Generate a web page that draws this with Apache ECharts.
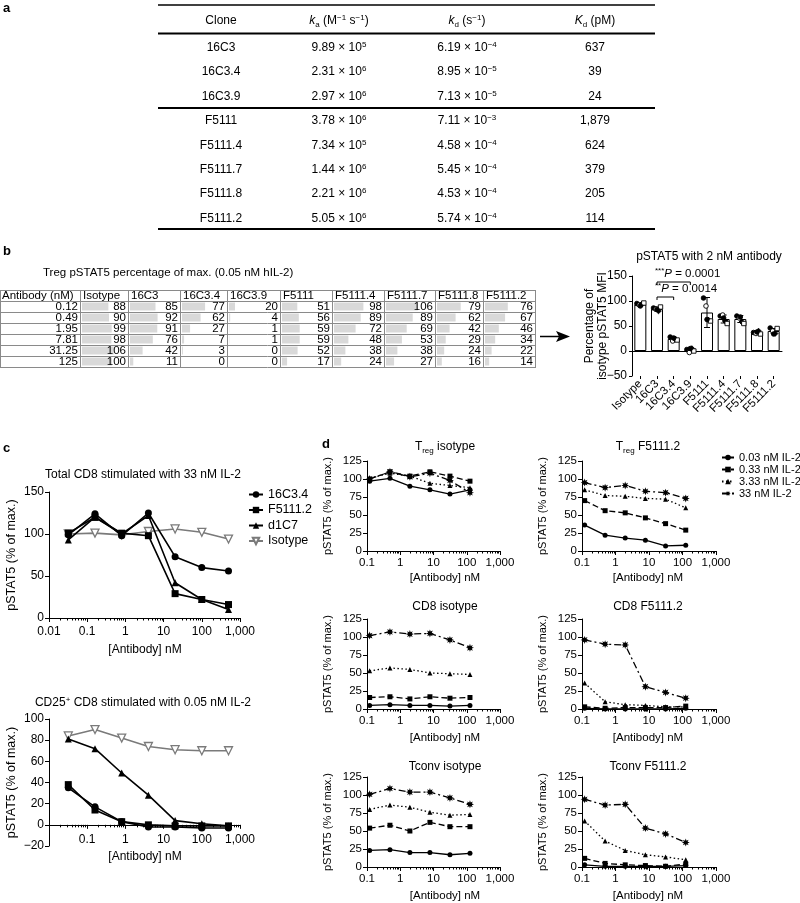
<!DOCTYPE html>
<html><head><meta charset="utf-8">
<script src="https://cdn.jsdelivr.net/npm/echarts@6/dist/echarts.min.js"></script>
<style>html,body{margin:0;padding:0;background:#fff}#main{width:800px;height:903px}</style>
</head><body><div id="main"></div>
<script>
const FONT = '"Liberation Sans", Arial, Helvetica, sans-serif';

// ================= DATA =================
// Panel a table
const aClones = ['16C3','16C3.4','16C3.9','F5111','F5111.4','F5111.7','F5111.8','F5111.2'];
const aKaMant = ['9.89','2.31','2.97','3.78','7.34','1.44','2.21','5.05'];
const aKaExp  = ['5','6','6','6','5','6','6','6'];
const aKdMant = ['6.19','8.95','7.13','7.11','4.58','5.45','4.53','5.74'];
const aKdExp  = ['\u22124','\u22125','\u22125','\u22123','\u22124','\u22124','\u22124','\u22124'];
const aKD     = ['637','39','24','1,879','624','379','205','114'];

// Panel b table
const bConc = ['0.12','0.49','1.95','7.81','31.25','125'];
const bCols = ['Isotype','16C3','16C3.4','16C3.9','F5111','F5111.4','F5111.7','F5111.8','F5111.2'];
const bIsotype = [88,90,99,98,106,100];
const b16C3    = [85,92,91,76,42,11];
const b16C3_4  = [77,62,27,7,3,0];
const b16C3_9  = [20,4,1,1,0,0];
const bF5111   = [51,56,59,59,52,17];
const bF5111_4 = [98,89,72,48,38,24];
const bF5111_7 = [106,89,69,53,38,27];
const bF5111_8 = [79,62,42,29,24,16];
const bF5111_2 = [76,67,46,34,22,14];
const bTable = [bIsotype,b16C3,b16C3_4,b16C3_9,bF5111,bF5111_4,bF5111_7,bF5111_8,bF5111_2];

// Panel b bar chart (pSTAT5 with 2 nM antibody)
const barMeans = [93,84,24,2,77,64,64,37,40];
const barSD    = [3,4,4,4,30,8,7,3,5];
const barReps  = [[95,92,94,96,90],[86,84,80,88,83],[28,20,24,22,26],[3,-3,5,0,5],[106,90,62,60,63],[70,72,60,55,66],[70,66,58,55,68],[37,35,40,34,38],[46,40,35,45,34]];
const bracketSpans = [[1,3],[1,2]];
const bracketY = [138,108];
const bracketStars = ['***','**'];
const bracketP = ['0.0001','0.0014'];

// Panel c
const cConc = [0.032,0.16,0.8,4,20,100,500];
const cNames = ['16C3.4','F5111.2','d1C7','Isotype'];
const cTop = [
  [99,124,98,125,73,60,56],
  [101,120,101,98,29,22,16],
  [93,120,100,122,42,22,10],
  [100,101,99,103,106,102,94]
];
const cBot = [
  [35,17,3,-2,-2,-3,-3],
  [38,14,3,0,-1,-1,-1],
  [81,72,49,28,4,1,-1],
  [84,90,82,74,71,70,70]
];
const xTickLabels = ['0.01','0.1','1','10','100','1,000'];   // 10^-2 .. 10^3

// Panel d
const dConc = [0.12,0.49,1.95,7.81,31.25,125];
const dIL2 = ['0.03 nM IL-2','0.33 nM IL-2','3.33 nM IL-2','33 nM IL-2'];
const dTregIso   = [[97,101,90,85,79,85],[100,110,104,110,104,97],[101,108,104,94,91,88],[100,110,103,108,98,81]];
const dTregF     = [[36,22,18,15,7,8],[70,56,53,46,38,29],[85,77,76,73,72,60],[95,88,91,83,81,73]];
const dCD8Iso    = [[5,6,5,5,4,5],[16,17,14,17,15,16],[53,57,55,50,49,48],[102,107,104,105,96,85]];
const dCD8F      = [[1,0,0,0,0,1],[3,1,2,2,2,4],[36,10,6,5,3,3],[96,90,89,31,23,15]];
const dTconvIso  = [[23,24,20,20,17,19],[54,58,50,62,56,56],[80,86,83,76,72,73],[101,109,104,104,96,87]];
const dTconvF    = [[3,1,1,1,1,2],[12,5,3,2,1,4],[64,36,23,17,14,10],[94,86,87,54,46,34]];
const dTitles = ['T_reg isotype','T_reg F5111.2','CD8 isotype','CD8 F5111.2','Tconv isotype','Tconv F5111.2'];
const dPanels = [dTregIso,dTregF,dCD8Iso,dCD8F,dTconvIso,dTconvF];

// ================= BUILD =================
const grids=[], xAxes=[], yAxes=[], series=[], graphics=[], legends=[];
const minusFmt = v => String(v).replace('-', '\u2212');
function addGrid(g){ grids.push(Object.assign({containLabel:false}, g)); return grids.length-1; }
function rich(sz){
  return {
    n:{fontSize:sz,fontFamily:FONT,fill:'#000',lineHeight:sz+3},
    i:{fontSize:sz,fontFamily:FONT,fontStyle:'italic',fill:'#000',lineHeight:sz+3},
    sup:{fontSize:Math.round(sz*0.68),fontFamily:FONT,fill:'#000',verticalAlign:'top'},
    sub:{fontSize:Math.round(sz*0.68),fontFamily:FONT,fill:'#000',verticalAlign:'bottom'}
  };
}
function txt(x,y,text,o){
  o=o||{};
  const st = {text, fill:'#000', fontSize:o.size||12, fontFamily:FONT, fontWeight:o.bold?'bold':'normal',
    fontStyle:o.italic?'italic':'normal', align:o.align||'center', verticalAlign:o.va||'middle'};
  if(o.rich) st.rich = rich(o.size||12);
  graphics.push({type:'text', x, y, z:100, silent:true, rotation:o.rotation||0, style:st});
}
function line(x1,y1,x2,y2,w,c){ graphics.push({type:'line', z:100, silent:true, shape:{x1,y1,x2,y2}, style:{stroke:c||'#000', lineWidth:w||1}}); }

// panel labels
txt(3,8,'a',{bold:true,size:13,align:'left'});
txt(3,251,'b',{bold:true,size:13,align:'left'});
txt(3,448,'c',{bold:true,size:13,align:'left'});
txt(322,444,'d',{bold:true,size:13,align:'left'});

// ---- Panel a table
const aX=[221,339,467,595], aHeadY=21, aRowY=[48,72,97,121,146,170,194,219];
line(158,5,655,5,1.5); line(158,33.5,655,33.5,2); line(158,108,655,108,2); line(158,229,655,229,2);
txt(aX[0],aHeadY,'Clone',{size:12});
txt(aX[1],aHeadY,'{i|k}{sub|a}{n| (M}{sup|\u22121}{n| s}{sup|\u22121}{n|)}',{size:12,rich:true});
txt(aX[2],aHeadY,'{i|k}{sub|d}{n| (s}{sup|\u22121}{n|)}',{size:12,rich:true});
txt(aX[3],aHeadY,'{i|K}{sub|d}{n| (pM)}',{size:12,rich:true});
aClones.forEach((c,i)=>{
  txt(aX[0],aRowY[i],c,{size:12});
  txt(aX[1],aRowY[i],'{n|'+aKaMant[i]+' \u00d7 10}{sup|'+aKaExp[i]+'}',{size:12,rich:true});
  txt(aX[2],aRowY[i],'{n|'+aKdMant[i]+' \u00d7 10}{sup|'+aKdExp[i]+'}',{size:12,rich:true});
  txt(aX[3],aRowY[i],aKD[i],{size:12});
});

// ---- Panel b table
txt(43,273,'Treg pSTAT5 percentage of max. (0.05 nM hIL-2)',{size:11.5,align:'left'});
const bEdges=[0,80,128,180,227,280,332,384,435,483,535];
const bTop=290, bRowH=11;
for(let k=0;k<=7;k++) line(0,bTop+k*bRowH+0.5,535,bTop+k*bRowH+0.5,1,'#8a8a8a');
bEdges.forEach(x=>line(x+0.5,bTop,x+0.5,bTop+7*bRowH+1,1,'#8a8a8a'));
txt(2,bTop+6,'Antibody (nM)',{size:11.5,align:'left'});
bCols.forEach((c,i)=>txt(bEdges[i+1]+3,bTop+6,c,{size:11.5,align:'left'}));
bConc.forEach((c,r)=>txt(bEdges[1]-2,bTop+bRowH*(r+1)+6,c,{size:11.5,align:'right'}));
const PX_PER_UNIT = 0.3;
bTable.forEach((vals,i)=>{
  const l=bEdges[i+1], w=bEdges[i+2]-l;
  const gi = addGrid({left:l+2, top:bTop+bRowH, width:w-3, height:6*bRowH});
  const xi=xAxes.length, yi=yAxes.length;
  xAxes.push({gridIndex:gi, type:'value', min:0, max:(w-3)/PX_PER_UNIT, show:false});
  yAxes.push({gridIndex:gi, type:'category', data:bConc, inverse:true, show:false});
  series.push({type:'bar', xAxisIndex:xi, yAxisIndex:yi, data:vals, barWidth:8, silent:true,
    itemStyle:{color:'#d9d9d9'}, z:1});
  vals.forEach((v,r)=>txt(l+w-2,bTop+bRowH*(r+1)+6,String(v),{size:11.5,align:'right'}));
});

// arrow
line(540,336.5,560,336.5,1.5);
graphics.push({type:'polygon', z:100, silent:true, shape:{points:[[556,331],[570,336.5],[556,342],[559,336.5]]}, style:{fill:'#000'}});

// ---- Panel b bar chart
txt(709,257,'pSTAT5 with 2 nM antibody',{size:12});
const gB = addGrid({left:632, top:276, width:150, height:100});
const bYi = yAxes.length;
yAxes.push({gridIndex:gB, type:'value', min:-50, max:150, interval:50,
  axisLine:{show:true,onZero:false,lineStyle:{color:'#000'}}, axisTick:{show:true,length:3,lineStyle:{color:'#000'}},
  splitLine:{show:false}, axisLabel:{color:'#000',fontSize:12,fontFamily:FONT,margin:5,formatter:minusFmt},
  name:'Percentage of\nisotype pSTAT5 MFI', nameLocation:'middle', nameGap:23, nameMoveOverlap:false,
  nameTextStyle:{color:'#000',fontSize:12,fontFamily:FONT,lineHeight:13}});
const bXi = xAxes.length;
xAxes.push({gridIndex:gB, type:'category', data:bCols, position:'bottom',
  axisLine:{show:false,onZero:false}, axisTick:{show:true,alignWithLabel:true,length:3,lineStyle:{color:'#000'}},
  axisLabel:{rotate:45,interval:0,color:'#000',fontSize:11.5,fontFamily:FONT,margin:6}});
xAxes.push({gridIndex:gB, type:'category', data:bCols, position:'bottom',
  axisLine:{show:true,onZero:true,onZeroAxisIndex:bYi,lineStyle:{color:'#000',width:1}},
  axisTick:{show:false}, axisLabel:{show:false}});
series.push({type:'bar', xAxisIndex:bXi, yAxisIndex:bYi, data:barMeans, barWidth:12, silent:true,
  itemStyle:{color:'#fff',borderColor:'#000',borderWidth:1}, z:2});
series.push({type:'custom', xAxisIndex:bXi, yAxisIndex:bYi, silent:true, z:4,
  data:barMeans.map((m,i)=>[i,m,barSD[i]]),
  renderItem:(p,api)=>{
    const x=api.value(0), m=api.value(1), s=api.value(2);
    const t=api.coord([x,m+s]), b=api.coord([x,m-s]); const cw=3;
    const ls={stroke:'#000',lineWidth:1};
    return {type:'group',children:[
      {type:'line',shape:{x1:t[0],y1:t[1],x2:b[0],y2:b[1]},style:ls},
      {type:'line',shape:{x1:t[0]-cw,y1:t[1],x2:t[0]+cw,y2:t[1]},style:ls},
      {type:'line',shape:{x1:b[0]-cw,y1:b[1],x2:b[0]+cw,y2:b[1]},style:ls}]};
  }});
const jitter=[-3.5,-1,1.5,3.5,0];
const repData=[]; barReps.forEach((arr,i)=>arr.forEach((v,j)=>repData.push([i,v,j])));
series.push({type:'custom', xAxisIndex:bXi, yAxisIndex:bYi, silent:true, z:5, data:repData,
  renderItem:(p,api)=>{
    const c=api.coord([api.value(0),api.value(1)]); const j=api.value(2);
    const x=c[0]+jitter[j], y=c[1];
    const open = (j%2===1);
    const st={fill:open?'#fff':'#000',stroke:'#000',lineWidth:0.9};
    if(j===2) return {type:'polygon',shape:{points:[[x,y-2.8],[x+2.8,y],[x,y+2.8],[x-2.8,y]]},style:st};
    if(j===3) return {type:'rect',shape:{x:x-2.2,y:y-2.2,width:4.4,height:4.4},style:st};
    return {type:'circle',shape:{cx:x,cy:y,r:2.3},style:st};
  }});
series.push({type:'custom', xAxisIndex:bXi, yAxisIndex:bYi, silent:true, clip:false, z:5,
  data:bracketSpans.map((s,i)=>[s[0],s[1],bracketY[i],i]),
  renderItem:(p,api)=>{
    const i=api.value(3);
    const a=api.coord([api.value(0),api.value(2)]), b=api.coord([api.value(1),api.value(2)]);
    return {type:'group',children:[
      {type:'polyline',shape:{points:[[a[0],a[1]+3],[a[0],a[1]],[b[0],b[1]],[b[0],b[1]+3]]},style:{stroke:'#000',fill:null,lineWidth:1}},
      {type:'text',x:a[0]-2,y:a[1]-8,style:{text:'{sup|'+bracketStars[i]+'}{i|P}{n| = '+bracketP[i]+'}',
        rich:rich(11.5),align:'left',verticalAlign:'middle',fontSize:11.5,fontFamily:FONT}}]};
  }});

// ---- log plot helper
function minorTicks(lo,hi){ const out=[]; for(let d=lo; d<hi; d++) for(let k=2;k<=9;k++) out.push(Math.log10(k)+d); return out; }
function logPlot(o){
  const gi = addGrid({left:o.left, top:o.top, width:o.width, height:o.height});
  const yi = yAxes.length;
  yAxes.push({gridIndex:gi, type:'value', min:o.ymin, max:o.ymax, interval:o.yint,
    axisLine:{show:true,onZero:false,lineStyle:{color:'#000',width:1}}, axisTick:{show:true,length:4,lineStyle:{color:'#000'}},
    splitLine:{show:false}, axisLabel:{color:'#000',fontSize:o.fs,fontFamily:FONT,margin:5,formatter:minusFmt},
    name:'pSTAT5 (% of max.)', nameLocation:'middle', nameGap:o.yNameGap,
    nameTextStyle:{color:'#000',fontSize:o.yNameFs,fontFamily:FONT}});
  const xi = xAxes.length;
  const fmt = v => xTickLabels[Math.round(v)+2];
  xAxes.push({gridIndex:gi, type:'value', position:'bottom', min:o.xmin, max:o.xmax, interval:1,
    axisLine:{show:true,onZero:true,onZeroAxisIndex:yi,lineStyle:{color:'#000',width:1}},
    axisTick:{show:true,length:4,lineStyle:{color:'#000'}}, splitLine:{show:false},
    axisLabel:{show:!o.sepLabels,color:'#000',fontSize:o.fs,fontFamily:FONT,margin:o.lblMargin,formatter:fmt}});
  xAxes.push({gridIndex:gi, type:'value', position:'bottom', min:o.xmin, max:o.xmax,
    axisLine:{show:false,onZero:true,onZeroAxisIndex:yi},
    axisTick:{show:true,length:2.5,customValues:minorTicks(o.xmin,o.xmax),lineStyle:{color:'#000'}},
    splitLine:{show:false}, axisLabel:{show:false}});
  if(o.sepLabels){
    xAxes.push({gridIndex:gi, type:'value', position:'bottom', min:o.xmin, max:o.xmax, interval:1, offset:o.lblOffset,
      axisLine:{show:false,onZero:false}, axisTick:{show:false}, splitLine:{show:false},
      axisLabel:{color:'#000',fontSize:o.fs,fontFamily:FONT,margin:0,showMinLabel:false,formatter:fmt}});
  }
  return {xi, yi};
}
function addLine(p,name,conc,vals,st){
  series.push({type:'line', name, xAxisIndex:p.xi, yAxisIndex:p.yi,
    data:conc.map((c,i)=>[Math.log10(c),vals[i]]),
    symbol:st.symbol, symbolSize:st.size, symbolRotate:st.rot||0, showSymbol:true, silent:true,
    lineStyle:{color:st.color,width:st.lw,type:st.dash||'solid'},
    itemStyle:{color:st.fill||st.color,borderColor:st.color,borderWidth:st.bw||0},
    emphasis:{disabled:true}, z:st.z||3, animation:false});
}

// ---- Panel c
const cStyles=[
  {symbol:'circle',size:7,color:'#000',lw:1.6},
  {symbol:'rect',size:7,color:'#000',lw:1.6},
  {symbol:'triangle',size:7,color:'#000',lw:1.6},
  {symbol:'triangle',size:8,rot:180,color:'#7a7a7a',fill:'#fff',bw:1.3,lw:1.6,z:2}
];
txt(143,475,'Total CD8 stimulated with 33 nM IL-2',{size:12});
const pC1 = logPlot({left:49,top:492,width:191,height:126,ymin:0,ymax:150,yint:50,xmin:-2,xmax:3,fs:12,yNameGap:31,yNameFs:12.5,lblMargin:8});
cNames.forEach((n,k)=>addLine(pC1,n,cConc,cTop[k],cStyles[k]));
txt(145,650,'[Antibody] nM',{size:12});
txt(143,703,'{n|CD25}{sup|+}{n| CD8 stimulated with 0.05 nM IL-2}',{size:12,rich:true});
const pC2 = logPlot({left:49,top:719,width:191,height:127,ymin:-20,ymax:100,yint:20,xmin:-2,xmax:3,fs:12,yNameGap:31,yNameFs:12.5,sepLabels:true,lblOffset:-12});
cNames.forEach((n,k)=>addLine(pC2,n,cConc,cBot[k],cStyles[k]));
txt(145,857,'[Antibody] nM',{size:12});
legends.push({data:cNames, orient:'vertical', left:243, top:483, itemWidth:14, itemHeight:8, itemGap:2.5,
  selectedMode:false, textStyle:{color:'#000',fontSize:12.5,fontFamily:FONT}});

// ---- Panel d
function starPath(){ const p=[]; for(let i=0;i<16;i++){ const r=i%2?0.5:1; const a=Math.PI*2*i/16-Math.PI/2; p.push((50+50*r*Math.cos(a)).toFixed(1)+' '+(50+50*r*Math.sin(a)).toFixed(1)); } return 'path://M'+p.join(' L')+' Z'; }
const dStyles=[
  {symbol:'circle',size:5,color:'#000',lw:1.3},
  {symbol:'rect',size:5,color:'#000',lw:1.3,dash:[6,3]},
  {symbol:'triangle',size:5,color:'#000',lw:1.3,dash:[1.5,2.5]},
  {symbol:starPath(),size:8,color:'#000',lw:1.3,dash:[7,3,2,3]}
];
const dLeft=[367,582], dWidth=[133,134], dTop=[461,619,777], dTitleY=[447,607,767], dXNameY=[578,738,896], dTitleX=[445,648];
dPanels.forEach((pd,idx)=>{
  const col=idx%2, row=Math.floor(idx/2);
  const p = logPlot({left:dLeft[col],top:dTop[row],width:dWidth[col],height:90,ymin:0,ymax:125,yint:25,xmin:-1,xmax:3,fs:11.5,yNameGap:34,yNameFs:11,lblMargin:6});
  pd.forEach((vals,k)=>addLine(p,dIL2[k],dConc,vals,dStyles[k]));
  const t = dTitles[idx];
  if(t.indexOf('T_reg')===0) txt(dTitleX[col],dTitleY[row],'{n|T}{sub|reg}{n|'+t.slice(5)+'}',{size:12,rich:true});
  else txt(dTitleX[col],dTitleY[row],t,{size:12});
  txt(dTitleX[col],dXNameY[row],'[Antibody] nM',{size:11.5});
});
legends.push({data:dIL2, orient:'vertical', left:716, top:447, itemWidth:12, itemHeight:7, itemGap:1,
  selectedMode:false, textStyle:{color:'#000',fontSize:11,fontFamily:FONT}});

const chart = echarts.init(document.getElementById('main'), null, {renderer:'canvas', devicePixelRatio:1});
chart.setOption({
  animation:false,
  backgroundColor:'#fff',
  textStyle:{fontFamily:FONT,color:'#000'},
  grid:grids, xAxis:xAxes, yAxis:yAxes, series:series, legend:legends,
  graphic:{elements:graphics}
});
</script></body></html>
